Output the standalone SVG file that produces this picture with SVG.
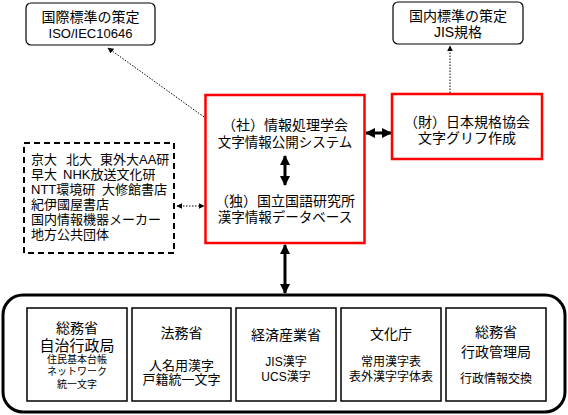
<svg xmlns="http://www.w3.org/2000/svg" width="568" height="415" viewBox="0 0 568 415">
<style>
text{font-family:"Liberation Sans","Noto Sans CJK JP",sans-serif;fill:#000;}
.c{text-anchor:middle;}
.box{fill:#fff;stroke:#000;stroke-width:1.2;}
.red{fill:#fff;stroke:#ff0000;stroke-width:2.5;}
.inner{fill:#fff;stroke:#000;stroke-width:1.5;}
.thick{stroke:#000;stroke-width:3;fill:none;}
.dot{stroke:#000;stroke-width:1;stroke-dasharray:1.5 1.5;fill:none;}
</style>
<defs>
<marker id="big" viewBox="0 0 10 10" refX="9" refY="5" markerWidth="10" markerHeight="10" markerUnits="userSpaceOnUse" orient="auto-start-reverse">
<path d="M0,0 L10,5 L0,10 z" fill="#000"/>
</marker>
<marker id="sm" viewBox="0 0 10 10" refX="9" refY="5" markerWidth="6" markerHeight="6" markerUnits="userSpaceOnUse" orient="auto-start-reverse">
<path d="M0,0 L10,5 L0,10 z" fill="#000"/>
</marker>
</defs>

<g id="connectors">
<line class="dot" x1="204" y1="117" x2="108" y2="48" marker-end="url(#sm)"/>
<line class="dot" x1="450" y1="93" x2="450" y2="46" marker-end="url(#sm)"/>
<line class="dot" x1="177" y1="206" x2="204" y2="206" marker-start="url(#sm)" marker-end="url(#sm)"/>
<line class="thick" x1="366" y1="133" x2="391" y2="133" marker-start="url(#big)" marker-end="url(#big)"/>
<line class="thick" x1="285" y1="245" x2="285" y2="293" marker-start="url(#big)" marker-end="url(#big)"/>
</g>

<g id="intl">
<rect class="box" x="26" y="3" width="129" height="42" rx="5"/>
<text class="c" x="90.5" y="22" font-size="14">国際標準の策定</text>
<text class="c" x="90.5" y="38" font-size="13">ISO/IEC10646</text>
</g>

<g id="jis">
<rect class="box" x="393" y="2" width="130" height="42" rx="5"/>
<text class="c" x="458" y="21" font-size="14">国内標準の策定</text>
<text class="c" x="458" y="37" font-size="14">JIS規格</text>
</g>

<g id="ipsj">
<rect class="red" x="205.5" y="95" width="159" height="148"/>
<text class="c" x="285" y="130" font-size="14">（社）情報処理学会</text>
<text class="c" x="285" y="147" font-size="13.5">文字情報公開システム</text>
<line class="thick" x1="285" y1="156" x2="285" y2="185" marker-start="url(#big)" marker-end="url(#big)"/>
<text class="c" x="285" y="206" font-size="14">（独）国立国語研究所</text>
<text class="c" x="285" y="222" font-size="13.5">漢字情報データベース</text>
</g>

<g id="jsa">
<rect class="red" x="392" y="94" width="150" height="65"/>
<text class="c" x="467" y="127" font-size="14">（財）日本規格協会</text>
<text class="c" x="467" y="143" font-size="14">文字グリフ作成</text>
</g>

<g id="partners">
<rect x="24" y="143" width="150" height="110" fill="#fff" stroke="#000" stroke-width="2" stroke-dasharray="6 4"/>
<text font-size="13" y="164"><tspan x="31">京大</tspan><tspan x="66">北大</tspan><tspan x="100">東外大AA研</tspan></text>
<text font-size="13" y="179"><tspan x="31">早大</tspan><tspan x="63">NHK放送文化研</tspan></text>
<text font-size="13" y="194"><tspan x="31">NTT環境研</tspan><tspan x="102">大修館書店</tspan></text>
<text font-size="13" x="31" y="209">紀伊國屋書店</text>
<text font-size="13" x="31" y="224">国内情報機器メーカー</text>
<text font-size="13" x="31" y="239">地方公共団体</text>
</g>

<g id="government">
<rect x="3" y="295" width="562" height="117" rx="20" fill="#fff" stroke="#000" stroke-width="3"/>
</g>

<g id="soumu-jichi">
<rect class="inner" x="27" y="308" width="100" height="93"/>
<text class="c" x="77" y="333" font-size="14">総務省</text>
<text class="c" x="77" y="351" font-size="15">自治行政局</text>
<text class="c" x="77" y="363" font-size="10">住民基本台帳</text>
<text class="c" x="77" y="375" font-size="10">ネットワーク</text>
<text class="c" x="77" y="388" font-size="10">統一文字</text>
</g>

<g id="houmu">
<rect class="inner" x="132" y="308" width="99" height="93"/>
<text class="c" x="181.5" y="338" font-size="14">法務省</text>
<text class="c" x="181.5" y="370" font-size="13">人名用漢字</text>
<text class="c" x="181.5" y="384" font-size="13">戸籍統一文字</text>
</g>

<g id="meti">
<rect class="inner" x="236" y="308" width="100" height="93"/>
<text class="c" x="286" y="340" font-size="14">経済産業省</text>
<text class="c" x="286" y="366" font-size="12">JIS漢字</text>
<text class="c" x="286" y="381" font-size="12">UCS漢字</text>
</g>

<g id="bunka">
<rect class="inner" x="341" y="308" width="100" height="93"/>
<text class="c" x="391" y="339" font-size="14">文化庁</text>
<text class="c" x="391" y="366" font-size="12">常用漢字表</text>
<text class="c" x="391" y="381" font-size="12">表外漢字字体表</text>
</g>

<g id="soumu-gyousei">
<rect class="inner" x="446" y="308" width="100" height="93"/>
<text class="c" x="496" y="337" font-size="14">総務省</text>
<text class="c" x="496" y="357" font-size="14">行政管理局</text>
<text class="c" x="496" y="383" font-size="12">行政情報交換</text>
</g>
</svg>
